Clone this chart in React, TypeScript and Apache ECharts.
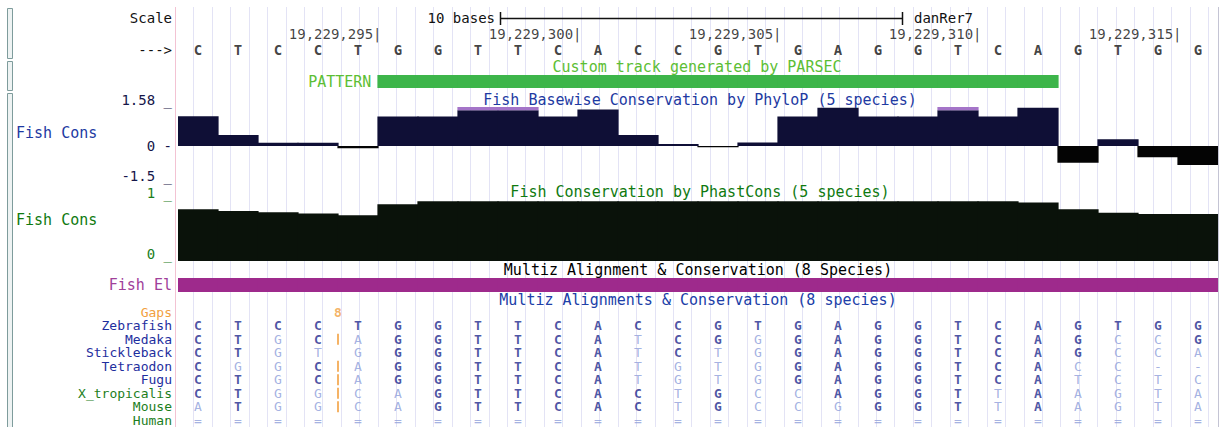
import React, { useEffect, useRef } from "react";
import * as echarts from "echarts";

// ---------------- data ----------------
const bases = ["C","T","C","C","T","G","G","T","T","C","A","C","C","G","T","G","A","G","G","T","C","A","G","T","G","G"];
const firstBasePos = 19229291;
const positionTicks = [19229295, 19229300, 19229305, 19229310, 19229315];
const rulerRows = ["Scale", "chr19:", "--->"];

const patternTrack = [0,0,0,0,0,1,1,1,1,1,1,1,1,1,1,1,1,1,1,1,1,1,0,0,0,0];
const phyloP = [1.21,0.45,0.13,0.13,-0.09,1.19,1.19,1.45,1.45,1.19,1.48,0.45,0.08,-0.05,0.14,1.19,1.55,1.19,1.19,1.45,1.19,1.55,-0.68,0.27,-0.46,-0.77];
const phyloPClip = [0,0,0,0,0,0,0,0.13,0.13,0,0,0,0,0,0,0,0,0,0,0.13,0,0,0,0,0,0];
const phyloPLabels = [1.58, -1.5];
const phastCons = [0.85,0.82,0.80,0.78,0.75,0.93,0.98,0.98,0.98,0.98,0.98,0.98,0.98,0.98,0.98,0.98,0.98,0.98,0.98,0.98,0.98,0.96,0.85,0.79,0.77,0.77];
const phastLabels = [0, 1];
const fishEl = [1,1,1,1,1,1,1,1,1,1,1,1,1,1,1,1,1,1,1,1,1,1,1,1,1,1];

const species = ["Zebrafish","Medaka","Stickleback","Tetraodon","Fugu","X_tropicalis","Mouse","Human"];
const speciesGreen = ["X_tropicalis","Mouse","Human"];
const alignment = [
  "CTCCTGGTTCACCGTGAGGTCAGTGG",
  "CTGCAGGTTCATCGGGAGGTCAGCCG",
  "CTGTGGGTTCATCTGGAGGTCAGCCA",
  "CGGCAGGTTCATGTGGAGGTCACC--",
  "CTGCAGGTTCATGTGGAGGTCATCTC",
  "CTGGCAGTTCACTGCCAGGTTAAGTA",
  "ATGGCAGTTCACTGCCGGGTTAAGTA",
  "==========================",
];
const gapAfterBase = 4;
const gapCount = "8";
const gapSpecies = ["Medaka","Tetraodon","Fugu","X_tropicalis","Mouse"];

// ---------------- style ----------------
const FONT = "DejaVu Sans Mono";
const L = 178;
const W = 1040;
const C_BLUE = "#1E2E9E";
const C_GREEN = "#1C7E1C";
const C_LIGHT = "#8E9EDA";
const C_ORANGE = "#F2A040";
const C_POS = "#0F0F36";
const C_NEG = "#040404";

export default function App() {
  const ref = useRef<HTMLDivElement>(null);

  useEffect(() => {
    if (!ref.current) return;
    const chart = echarts.init(ref.current, undefined, { renderer: "svg" });
    const cats = bases.map((_, i) => String(i + 1));
    const rowCats = ["Gaps", ...species];

    const boldPts: any[] = [];
    const lightPts: any[] = [];
    alignment.forEach((row, s) => {
      row.split("").forEach((ch, c) => {
        const isBold = ch !== "=" && (s === 0 || ch === alignment[0][c]);
        (isBold ? boldPts : lightPts).push([c + 0.5, s + 1, ch]);
      });
    });

    const graphics: any[] = [];
    for (let k = 0; k < 56; k++) {
      const x = Math.round(193.3 + 18.45 * k) + 0.5;
      graphics.push({ type: "line", z: 0, silent: true, shape: { x1: x, y1: 7, x2: x, y2: 427 }, style: { stroke: "#E3E3F5", lineWidth: 1 } });
    }
    graphics.push({ type: "line", z: 1, shape: { x1: 175.5, y1: 7, x2: 175.5, y2: 427 }, style: { stroke: "#F3C3D3", lineWidth: 1 } });
    graphics.push({ type: "line", z: 1, shape: { x1: 1218.5, y1: 7, x2: 1218.5, y2: 427 }, style: { stroke: "#C4C4D4", lineWidth: 1 } });
    [[8, 58], [61, 90], [93, 430]].forEach(([a, b]) => {
      graphics.push({ type: "rect", z: 1, shape: { x: 7.5, y: a + 0.5, width: 5, height: b - a }, style: { fill: "#EEF3F3", stroke: "#7E9C9C", lineWidth: 1 } });
    });
    const txt = (text: string, x: number, y: number, fill: string, align = "center", size = 15) => ({
      type: "text", z: 100, x, y, silent: true,
      style: { text, fill, align, verticalAlign: "middle", fontFamily: FONT, fontSize: size },
    });
    graphics.push(txt("10 bases", 495, 18, "#111", "right", 14));
    graphics.push({ type: "line", z: 5, shape: { x1: 500, y1: 18.5, x2: 903, y2: 18.5 }, style: { stroke: "#111", lineWidth: 1.5 } });
    graphics.push({ type: "line", z: 5, shape: { x1: 500.5, y1: 12, x2: 500.5, y2: 25 }, style: { stroke: "#111", lineWidth: 1.5 } });
    graphics.push({ type: "line", z: 5, shape: { x1: 902.5, y1: 12, x2: 902.5, y2: 25 }, style: { stroke: "#111", lineWidth: 1.5 } });
    graphics.push(txt("danRer7", 914, 18, "#111", "left", 14));
    graphics.push(txt("Custom track generated by PARSEC", 697, 67, "#5CBE34", "center", 15));
    graphics.push(txt("Fish Basewise Conservation by PhyloP (5 species)", 700, 100, "#1E3AA2", "center", 15));
    graphics.push(txt("Fish Cons", 16, 133, "#1E3AA2", "left", 15));
    graphics.push(txt("Fish Conservation by PhastCons (5 species)", 700, 192, "#107A10", "center", 15));
    graphics.push(txt("Fish Cons", 16, 220, "#107A10", "left", 15));
    graphics.push(txt("Multiz Alignment & Conservation (8 Species)", 698, 270, "#000", "center", 15));
    graphics.push(txt("Multiz Alignments & Conservation (8 species)", 698, 300, "#2040A8", "center", 15));

    const hidden = { show: false };
    const noLines = { axisLine: hidden, axisTick: hidden, splitLine: hidden };
    const barCommon = { barWidth: "103%", barGap: "-100%", barCategoryGap: "0%" };

    chart.setOption({
      animation: false,
      backgroundColor: "#FFFFFF",
      grid: [
        { left: L, width: W, top: 10, height: 48 },
        { left: L, width: W, top: 75, height: 13 },
        { left: L, width: W, top: 107, height: 76 },
        { left: L, width: W, top: 200, height: 61 },
        { left: L, width: W, top: 278, height: 14 },
        { left: L, width: W, top: 305.5, height: 121.5 },
      ],
      xAxis: [
        { type: "value", gridIndex: 0, min: 0, max: 26, show: false },
        { type: "category", gridIndex: 1, data: cats, show: false },
        { type: "category", gridIndex: 2, data: cats, show: false },
        { type: "category", gridIndex: 3, data: cats, show: false },
        { type: "category", gridIndex: 4, data: cats, show: false },
        { type: "value", gridIndex: 5, min: 0, max: 26, show: false },
      ],
      yAxis: [
        { type: "category", gridIndex: 0, data: rulerRows, inverse: true, position: "left", ...noLines,
          axisLabel: { margin: 6, color: "#111", fontFamily: FONT, fontSize: 14 } },
        { type: "value", gridIndex: 1, min: 0, max: 1, show: false },
        { type: "value", gridIndex: 2, min: -1.5, max: 1.58, position: "left", ...noLines,
          axisLabel: { customValues: phyloPLabels, showMinLabel: true, showMaxLabel: true, margin: 6, verticalAlign: "bottom",
            formatter: (v: number) => `${v} _`, color: "#16164A", fontFamily: FONT, fontSize: 14 } },
        { type: "value", gridIndex: 2, min: -1.5, max: 1.58, position: "left", offset: 0, ...noLines,
          axisLabel: { customValues: [0], margin: 6, verticalAlign: "middle",
            formatter: (v: number) => `${v} -`, color: "#16164A", fontFamily: FONT, fontSize: 14 } },
        { type: "value", gridIndex: 3, min: 0, max: 1, position: "left", ...noLines,
          axisLabel: { customValues: phastLabels, showMinLabel: true, showMaxLabel: true, margin: 6, verticalAlign: "bottom",
            formatter: (v: number) => `${v} _`, color: C_GREEN, fontFamily: FONT, fontSize: 14 } },
        { type: "value", gridIndex: 4, min: 0, max: 1, position: "left", ...noLines,
          axisLabel: { customValues: [0.5], margin: 6, verticalAlign: "middle",
            formatter: () => "Fish El", color: "#A0409A", fontFamily: FONT, fontSize: 15 } },
        { type: "category", gridIndex: 5, data: rowCats, inverse: true, position: "left", ...noLines,
          axisLabel: { margin: 6, interval: 0,
            formatter: (v: string) => `{${v === "Gaps" ? "o" : speciesGreen.includes(v) ? "g" : "b"}|${v}}`,
            rich: {
              o: { color: C_ORANGE, fontFamily: FONT, fontSize: 13, lineHeight: 12 },
              g: { color: C_GREEN, fontFamily: FONT, fontSize: 13, lineHeight: 12 },
              b: { color: C_BLUE, fontFamily: FONT, fontSize: 13, lineHeight: 12 },
            } } },
      ],
      series: [
        { type: "scatter", xAxisIndex: 0, yAxisIndex: 0, symbolSize: 1, itemStyle: { color: "transparent" },
          data: positionTicks.map((p) => [p - firstBasePos + 1, 1]),
          label: { show: true, position: "left", distance: 0, offset: [4, 0], color: "#111", fontFamily: FONT, fontSize: 14,
            formatter: (p: any) => (p.data[0] + firstBasePos - 1).toLocaleString("en-US") + "|" } },
        { type: "scatter", xAxisIndex: 0, yAxisIndex: 0, symbolSize: 1, itemStyle: { color: "transparent" },
          data: bases.map((b, i) => [i + 0.5, 2, b]),
          label: { show: true, position: "inside", color: "#111", fontFamily: FONT, fontSize: 14, fontWeight: "bold",
            formatter: (p: any) => p.data[2] } },
        { type: "bar", xAxisIndex: 1, yAxisIndex: 1, ...barCommon,
          itemStyle: { color: "#3DB54A" },
          data: patternTrack.map((v, i) => {
            if (!v) return "-";
            const first = patternTrack.indexOf(1) === i;
            return first
              ? { value: v, label: { show: true, position: "left", distance: 6, formatter: "PATTERN", color: "#5CBE34", fontFamily: FONT, fontSize: 15 } }
              : v;
          }) },
        { type: "bar", xAxisIndex: 2, yAxisIndex: 2, stack: "p", ...barCommon,
          data: phyloP.map((v) => ({ value: v, itemStyle: { color: v >= 0 ? C_POS : C_NEG } })) },
        { type: "bar", xAxisIndex: 2, yAxisIndex: 2, stack: "p", ...barCommon,
          itemStyle: { color: "#A474C8" },
          data: phyloPClip.map((v) => (v ? v : "-")) },
        { type: "bar", xAxisIndex: 3, yAxisIndex: 4, ...barCommon,
          itemStyle: { color: "#0A120A" }, data: phastCons },
        { type: "bar", xAxisIndex: 4, yAxisIndex: 5, ...barCommon,
          itemStyle: { color: "#9E2A8C" }, data: fishEl },
        { type: "scatter", xAxisIndex: 5, yAxisIndex: 6, symbolSize: 1, itemStyle: { color: "transparent" }, data: boldPts,
          label: { show: true, position: "inside", color: "#1E2A8E", fontFamily: FONT, fontSize: 13, fontWeight: "bold", lineHeight: 12,
            formatter: (p: any) => p.data[2] } },
        { type: "scatter", xAxisIndex: 5, yAxisIndex: 6, symbolSize: 1, itemStyle: { color: "transparent" }, data: lightPts,
          label: { show: true, position: "inside", color: C_LIGHT, fontFamily: FONT, fontSize: 13, lineHeight: 12,
            formatter: (p: any) => p.data[2] } },
        { type: "scatter", xAxisIndex: 5, yAxisIndex: 6, symbol: "rect", symbolSize: [2, 11],
          itemStyle: { color: C_ORANGE },
          data: gapSpecies.map((s) => [gapAfterBase, species.indexOf(s) + 1]) },
        { type: "scatter", xAxisIndex: 5, yAxisIndex: 6, symbolSize: 1, itemStyle: { color: "transparent" },
          data: [[gapAfterBase, 0, gapCount]],
          label: { show: true, position: "inside", color: C_ORANGE, fontFamily: FONT, fontSize: 13, fontWeight: "bold", lineHeight: 12,
            formatter: (p: any) => p.data[2] } },
      ],
      graphic: { elements: graphics },
    });
    return () => chart.dispose();
  }, []);

  return (
    <div
      ref={ref}
      style={{ position: "fixed", left: 0, top: 0, width: 1223, height: 427, background: "#fff" }}
    />
  );
}
